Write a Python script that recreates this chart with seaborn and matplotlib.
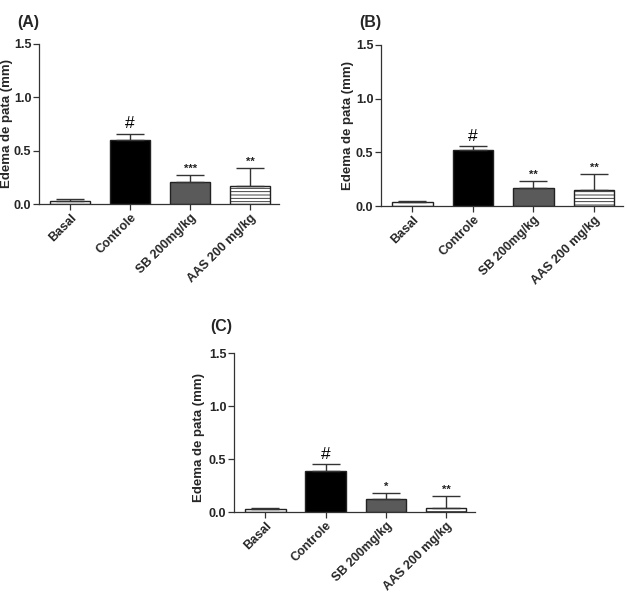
import matplotlib
matplotlib.use("Agg")
import matplotlib.pyplot as plt
import seaborn as sns
import numpy as np
import pandas as pd

categories = ["Basal", "Controle", "SB 200mg/kg", "AAS 200 mg/kg"]
means_A = [0.03, 0.60, 0.21, 0.17]
err_A = [0.015, 0.06, 0.06, 0.17]
marks_A = ["", "#", "***", "**"]
means_B = [0.035, 0.52, 0.17, 0.146]
err_B = [0.012, 0.04, 0.06, 0.15]
marks_B = ["", "#", "**", "**"]
means_C = [0.028, 0.387, 0.126, 0.035]
err_C = [0.01, 0.063, 0.05, 0.115]
marks_C = ["", "#", "*", "**"]
yticks = [0.0, 0.5, 1.0, 1.5]
ylabel = "Edema de pata (mm)"

bar_colors = ["white", "black", "#5a5a5a", "white"]

sns.set_style("ticks")
plt.rcParams["font.family"] = ["Liberation Sans", "DejaVu Sans"]
plt.rcParams["font.weight"] = "bold"
plt.rcParams["hatch.color"] = "#555555"
plt.rcParams["hatch.linewidth"] = 0.6

fig = plt.figure(figsize=(6.27, 5.92), dpi=100)

panels = [
    ("(A)", means_A, err_A, marks_A, [0.0622, 0.6554, 0.3828, 0.2703], (17, 22), (-0.11, 0.5)),
    ("(B)", means_B, err_B, marks_B, [0.6077, 0.652, 0.3859, 0.272], (359, 22), (-0.11, 0.5)),
    ("(C)", means_C, err_C, marks_C, [0.3732, 0.1351, 0.3844, 0.2686], (210, 327), (-0.12, 0.47)),
]

for label, means, errs, marks, rect, lab_pos, ylc in panels:
    ax = fig.add_axes(rect)
    df = pd.DataFrame({"grupo": categories, "valor": means})
    sns.barplot(data=df, x="grupo", y="valor", hue="grupo", palette=bar_colors,
                errorbar=None, width=0.67, edgecolor="#222222", linewidth=1.0,
                legend=False, ax=ax)
    ax.patches[3].set_hatch("-----")
    xs = np.arange(len(categories))
    ax.errorbar(xs, means, yerr=[np.zeros(len(errs)), errs], fmt="none",
                ecolor="#333333", elinewidth=1.0, capsize=10, capthick=1.0)
    for x, m, e, t in zip(xs, means, errs, marks):
        if not t:
            continue
        if t == "#":
            ax.text(x, m + e + 0.02, t, ha="center", va="bottom", fontsize=12.5,
                    fontweight="normal", color="black")
        else:
            ax.text(x, m + e + 0.01, t, ha="center", va="bottom", fontsize=8,
                    fontweight="bold", color="#222222")
    ax.set_xlim(-0.52, 3.48)
    ax.set_ylim(0, 1.5)
    ax.set_yticks(yticks)
    ax.set_yticklabels([f"{v:.1f}" for v in yticks], fontsize=9, fontweight="bold")
    ax.set_xticks(xs)
    ax.set_xticklabels(categories, rotation=45, ha="right", rotation_mode="anchor",
                       fontsize=9, fontweight="bold")
    ax.set_xlabel("")
    ax.set_ylabel(ylabel, fontsize=9.5, fontweight="bold")
    ax.yaxis.set_label_coords(ylc[0], ylc[1])
    sns.despine(ax=ax)
    for s in ["left", "bottom"]:
        ax.spines[s].set_color("#333333")
        ax.spines[s].set_linewidth(0.9)
    ax.tick_params(axis="both", direction="out", length=4, width=0.9, color="#333333", pad=1.5)
    fig.text(lab_pos[0] / 627, 1 - lab_pos[1] / 592, label, fontsize=11.5,
             fontweight="bold", ha="left", va="center")

fig.savefig("out.png", dpi=100)
